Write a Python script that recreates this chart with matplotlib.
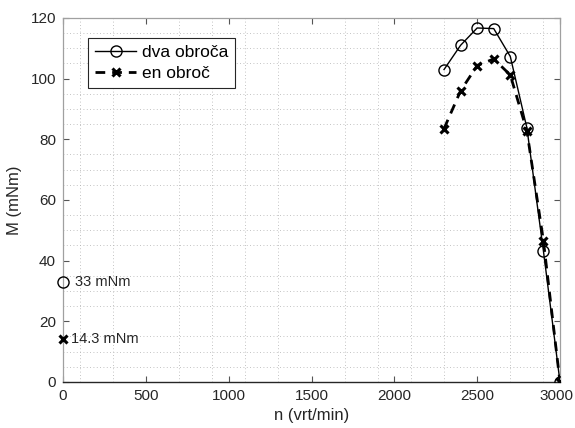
import numpy as np
import matplotlib
matplotlib.use("Agg")
import matplotlib.pyplot as plt
import matplotlib.transforms as mtransforms
from matplotlib.ticker import MultipleLocator, FixedLocator

plt.rcParams['font.family'] = ['Liberation Sans', 'DejaVu Sans']

# Torque vs speed measurements
n_speed = [2300, 2400, 2500, 2600, 2700, 2800, 2900, 3000]
m_dva = [103, 111, 116.7, 116.5, 107.3, 83.8, 43.2, 0]
m_en = [83.5, 96, 104.3, 106.5, 101.2, 82.8, 46.5, 0]

# Starting torque
start_dva = 33
start_en = 14.3

xticks = [0, 500, 1000, 1500, 2000, 2500, 3000]
yticks = [0, 20, 40, 60, 80, 100, 120]

fig = plt.figure(figsize=(5.75, 4.28), dpi=100)
ax = fig.add_axes([0.1096, 0.1075, 0.8643, 0.8505])

ax.plot(n_speed, m_dva, '-', color='black', lw=1.0, marker='o', ms=8,
        mfc='none', mew=1.0, label='dva obroča', zorder=4)
ax.plot(n_speed, m_en, '--', color='black', lw=2.0, dashes=(3.5, 2.5),
        marker='x', ms=6, mew=2.2, label='en obroč', zorder=3)

ax.plot([0], [start_dva], 'o', color='black', ms=8, mfc='none', mew=1.0,
        clip_on=False, zorder=5)
ax.plot([0], [start_en], 'x', color='black', ms=6, mew=2.2,
        clip_on=False, zorder=5)
ax.text(70, start_dva, f'{start_dva:g} mNm', fontsize=10.5, va='center',
        ha='left', color='#262626')
ax.text(50, start_en, f'{start_en:g} mNm', fontsize=10.5, va='center',
        ha='left', color='#262626')

ax.set_xlim(0, 3000)
ax.set_ylim(0, 120)
ax.set_xticks(xticks)
ax.set_yticks(yticks)
ax.xaxis.set_minor_locator(FixedLocator(np.arange(100, 3000, 200)))
ax.yaxis.set_minor_locator(MultipleLocator(5))
ax.grid(which='minor', color='#b0b0b0', linestyle=(0, (1, 3)), lw=0.6)
ax.grid(which='major', visible=False)

ax.tick_params(which='major', direction='in', length=4, width=0.8,
               labelsize=11, labelcolor='#262626', color='#555555',
               top=True, right=True, pad=5)
ax.tick_params(which='minor', length=0)

# keep the last x tick label inside the canvas
last = ax.get_xticklabels()[-1]
last.set_transform(last.get_transform() +
                   mtransforms.ScaledTranslation(-4 / 100, 0, fig.dpi_scale_trans))

for side in ['left', 'top', 'right']:
    ax.spines[side].set_color('#a0a0a0')
    ax.spines[side].set_linewidth(0.9)
ax.spines['bottom'].set_color('#262626')
ax.spines['bottom'].set_linewidth(1.0)

ax.set_xlabel('n (vrt/min)', fontsize=12, color='#262626', labelpad=4)
ax.set_ylabel('M (mNm)', fontsize=12, color='#262626', labelpad=6)

leg = ax.legend(loc='upper left', bbox_to_anchor=(0.05, 0.945),
                borderaxespad=0, fontsize=12.5, handlelength=2.4,
                handletextpad=0.3, borderpad=0.4, labelspacing=0.35,
                fancybox=False, framealpha=1, edgecolor='#262626')
leg.get_frame().set_linewidth(0.8)

fig.savefig('out.png', dpi=100)
